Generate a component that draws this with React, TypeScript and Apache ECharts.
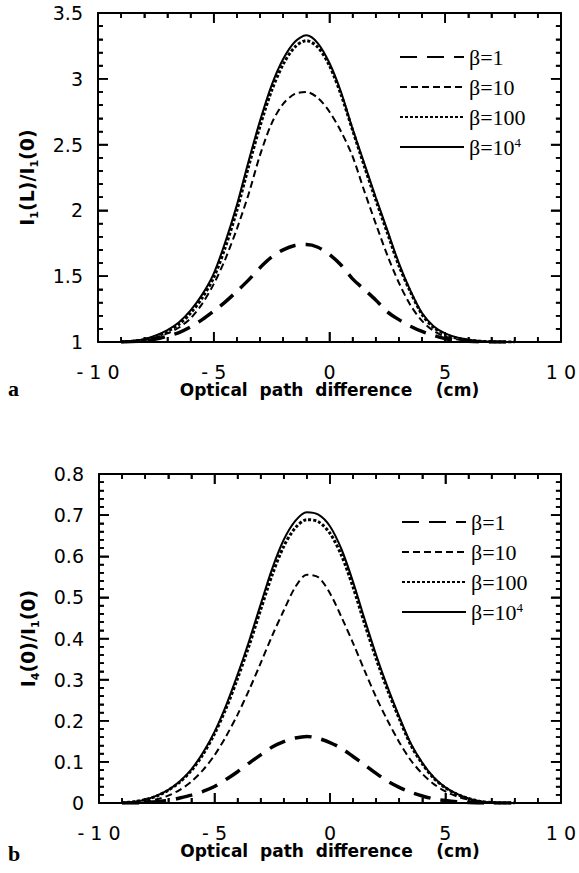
import React, { useEffect, useRef } from 'react';
import * as echarts from 'echarts';

// Optical path difference (cm)
const xs = [-9, -8.5, -8, -7.5, -7, -6.5, -6, -5.5, -5, -4.5, -4, -3.5, -3, -2.5, -2, -1.5, -1, -0.5, 0, 0.5, 1, 1.5, 2, 2.5, 3, 3.5, 4, 4.5, 5, 5.5, 6, 6.5, 7, 7.5, 8];

// Panel a: I1(L)/I1(0)
const topBeta1 = [1.0, 1.004, 1.01, 1.022, 1.045, 1.072, 1.115, 1.17, 1.235, 1.305, 1.385, 1.47, 1.565, 1.645, 1.70, 1.733, 1.74, 1.72, 1.665, 1.585, 1.48, 1.40, 1.32, 1.23, 1.17, 1.12, 1.08, 1.05, 1.025, 1.012, 1.005, 1.002, 1.0, 1.0, 1.0];
const topBeta10 = [1.0, 1.005, 1.015, 1.035, 1.065, 1.11, 1.18, 1.29, 1.44, 1.63, 1.86, 2.12, 2.42, 2.66, 2.81, 2.885, 2.90, 2.855, 2.75, 2.60, 2.41, 2.15, 1.90, 1.66, 1.45, 1.28, 1.16, 1.085, 1.04, 1.02, 1.008, 1.003, 1.0, 1.0, 1.0];
const topBeta100 = [1.0, 1.006, 1.018, 1.042, 1.08, 1.135, 1.22, 1.335, 1.49, 1.72, 2.0, 2.33, 2.64, 2.91, 3.11, 3.24, 3.29, 3.24, 3.10, 2.88, 2.61, 2.34, 2.08, 1.83, 1.58, 1.38, 1.21, 1.11, 1.06, 1.03, 1.015, 1.006, 1.002, 1.0, 1.0];
const topBeta1e4 = [1.0, 1.008, 1.022, 1.05, 1.09, 1.15, 1.24, 1.36, 1.52, 1.76, 2.04, 2.37, 2.68, 2.95, 3.15, 3.28, 3.33, 3.27, 3.12, 2.90, 2.62, 2.36, 2.10, 1.85, 1.60, 1.39, 1.22, 1.12, 1.065, 1.035, 1.018, 1.008, 1.003, 1.0, 1.0];

// Panel b: I4(0)/I1(0)
const botBeta1 = [0, 0, 0.001, 0.003, 0.006, 0.012, 0.019, 0.028, 0.04, 0.057, 0.076, 0.097, 0.117, 0.136, 0.149, 0.158, 0.162, 0.157, 0.147, 0.133, 0.113, 0.093, 0.072, 0.053, 0.038, 0.026, 0.017, 0.01, 0.006, 0.003, 0.001, 0, 0, 0, 0];
const botBeta10 = [0, 0.001, 0.004, 0.009, 0.018, 0.032, 0.052, 0.08, 0.116, 0.162, 0.215, 0.275, 0.34, 0.407, 0.468, 0.525, 0.555, 0.549, 0.51, 0.452, 0.389, 0.322, 0.257, 0.20, 0.148, 0.104, 0.071, 0.046, 0.028, 0.016, 0.008, 0.003, 0.001, 0, 0];
const botBeta100 = [0, 0.003, 0.008, 0.017, 0.031, 0.051, 0.079, 0.118, 0.168, 0.23, 0.303, 0.383, 0.47, 0.555, 0.624, 0.669, 0.689, 0.684, 0.656, 0.602, 0.525, 0.436, 0.351, 0.274, 0.205, 0.141, 0.095, 0.06, 0.037, 0.021, 0.011, 0.004, 0.001, 0, 0];
const botBeta1e4 = [0, 0.003, 0.008, 0.018, 0.032, 0.053, 0.082, 0.122, 0.173, 0.237, 0.312, 0.394, 0.483, 0.57, 0.64, 0.686, 0.707, 0.701, 0.673, 0.617, 0.538, 0.447, 0.36, 0.281, 0.21, 0.145, 0.098, 0.062, 0.038, 0.022, 0.011, 0.004, 0.001, 0, 0];

const seriesNames = ['β=1', 'β=10', 'β=100', 'β=10⁴'];
const topSeries = [topBeta1, topBeta10, topBeta100, topBeta1e4];
const botSeries = [botBeta1, botBeta10, botBeta100, botBeta1e4];

// Axis ticks
const xMajorTicks = [-10, -5, 0, 5, 10];
const topYMajorTicks = [1, 1.5, 2, 2.5, 3, 3.5];
const botYMajorTicks = [0, 0.1, 0.2, 0.3, 0.4, 0.5, 0.6, 0.7, 0.8];
const MINOR_SPLIT = 5;

const lineStyles = [
  { width: 3.5, type: [17, 10] as any },
  { width: 2, type: [7, 4] as any },
  { width: 3, type: [3, 2] as any },
  { width: 2, type: 'solid' as any },
];

const SANS = 'DejaVu Sans';
const SERIF = 'Liberation Serif';
const MAJOR_LEN = 10; // px
const MINOR_LEN = 5; // px
const TICK_W = 1.6;

const GRIDS = [
  { left: 98, top: 13, width: 466, height: 329 },
  { left: 99, top: 474, width: 465, height: 329 },
];

function spaced(v: number) {
  return String(v).split('').join(' ');
}

function minorsOf(majors: number[]) {
  const out: number[] = [];
  for (let i = 0; i < majors.length - 1; i++) {
    const step = (majors[i + 1] - majors[i]) / MINOR_SPLIT;
    for (let k = 1; k < MINOR_SPLIT; k++) out.push(+(majors[i] + step * k).toFixed(6));
  }
  return out;
}

// Inward tick segments on all four sides, expressed in data units so the
// library's own scales place them; '-' entries break the polyline.
function tickSegments(yMajors: number[], grid: { width: number; height: number }) {
  const xMin = xMajorTicks[0];
  const xMax = xMajorTicks[xMajorTicks.length - 1];
  const yMin = yMajors[0];
  const yMax = yMajors[yMajors.length - 1];
  const xPerPx = (xMax - xMin) / grid.width;
  const yPerPx = (yMax - yMin) / grid.height;
  const d: any[] = [];
  const gap = () => d.push(['-', '-']);
  const addX = (v: number, len: number) => {
    d.push([v, yMin], [v, yMin + len * yPerPx]);
    gap();
    d.push([v, yMax], [v, yMax - len * yPerPx]);
    gap();
  };
  const addY = (v: number, len: number) => {
    d.push([xMin, v], [xMin + len * xPerPx, v]);
    gap();
    d.push([xMax, v], [xMax - len * xPerPx, v]);
    gap();
  };
  xMajorTicks.forEach((v) => addX(v, MAJOR_LEN));
  minorsOf(xMajorTicks).forEach((v) => addX(v, MINOR_LEN));
  yMajors.forEach((v) => addY(v, MAJOR_LEN));
  minorsOf(yMajors).forEach((v) => addY(v, MINOR_LEN));
  return d;
}

function tickSeries(gi: number, yMajors: number[]) {
  return {
    type: 'line',
    name: 'axis-ticks-' + gi,
    xAxisIndex: gi * 2,
    yAxisIndex: gi * 2,
    data: tickSegments(yMajors, GRIDS[gi]),
    symbol: 'none',
    smooth: false,
    connectNulls: false,
    silent: true,
    clip: false,
    lineStyle: { color: '#000', width: TICK_W, type: 'solid', cap: 'butt' },
    z: 20,
  };
}

const AXIS_TICK = { show: true, inside: true, length: MAJOR_LEN, lineStyle: { color: '#000', width: TICK_W } };
const MINOR_TICK = { show: true, splitNumber: MINOR_SPLIT, length: MINOR_LEN, lineStyle: { color: '#000', width: TICK_W } };

function makeX(gridIndex: number, position: 'top' | 'bottom') {
  const isBottom = position === 'bottom';
  return {
    type: 'value',
    gridIndex,
    position,
    min: -10,
    max: 10,
    interval: 5,
    axisLine: { show: true, onZero: false, lineStyle: { color: '#000', width: 2 } },
    axisTick: AXIS_TICK,
    minorTick: MINOR_TICK,
    splitLine: { show: false },
    axisLabel: {
      show: isBottom,
      margin: 20,
      formatter: (v: number) => spaced(v),
      color: '#000',
      fontFamily: SANS,
      fontSize: 19,
    },
    name: isBottom ? 'Optical  path  difference    (cm)' : '',
    nameLocation: 'middle',
    nameGap: 38,
    nameTextStyle: { color: '#000', fontFamily: SANS, fontWeight: 'bold', fontSize: 17 },
  };
}

function makeY(gridIndex: number, position: 'left' | 'right', min: number, max: number, interval: number, name: string) {
  const isLeft = position === 'left';
  return {
    type: 'value',
    gridIndex,
    position,
    min,
    max,
    interval,
    axisLine: { show: true, onZero: false, lineStyle: { color: '#000', width: 2 } },
    axisTick: AXIS_TICK,
    minorTick: MINOR_TICK,
    splitLine: { show: false },
    axisLabel: {
      show: isLeft,
      margin: 15,
      color: '#000',
      fontFamily: SANS,
      fontSize: 19,
    },
    name: isLeft ? name : '',
    nameLocation: 'middle',
    nameGap: 58,
    nameTextStyle: {
      color: '#000',
      rich: {
        b: { fontFamily: SANS, fontWeight: 'bold', fontSize: 19, lineHeight: 26, color: '#000' },
        s: { fontFamily: SANS, fontWeight: 'bold', fontSize: 11, lineHeight: 11, verticalAlign: 'bottom', color: '#000' },
      },
    },
  };
}

function makeLegend(left: number, top: number) {
  return {
    data: seriesNames,
    orient: 'vertical',
    left,
    top,
    padding: 0,
    itemWidth: 64,
    itemHeight: 14,
    itemGap: 8,
    selectedMode: false,
    itemStyle: { opacity: 0, color: 'transparent', borderColor: 'transparent', borderWidth: 0 },
    formatter: (name: string) => (name === 'β=10⁴' ? '{p|β=10}{q|4}' : '{t|' + name + '}'),
    textStyle: {
      color: '#000',
      rich: {
        t: { fontFamily: SERIF, fontSize: 22, lineHeight: 22, color: '#000' },
        p: { fontFamily: SERIF, fontSize: 22, lineHeight: 22, color: '#000' },
        q: { fontFamily: SERIF, fontSize: 13, lineHeight: 13, verticalAlign: 'top', color: '#000' },
      },
    },
  };
}

export default function App() {
  const ref = useRef<HTMLDivElement>(null);

  useEffect(() => {
    if (!ref.current) return;
    const chart = echarts.init(ref.current, undefined, { renderer: 'svg' });

    const series: any[] = [];
    [topSeries, botSeries].forEach((group, gi) => {
      group.forEach((vals, si) => {
        series.push({
          type: 'line',
          name: seriesNames[si],
          xAxisIndex: gi * 2,
          yAxisIndex: gi * 2,
          data: xs.map((x, i) => [x, vals[i]]),
          symbol: 'none',
          smooth: 0.3,
          lineStyle: { color: '#000', width: lineStyles[si].width, type: lineStyles[si].type, cap: 'butt' },
          itemStyle: { color: '#000' },
          z: 2 + si,
        });
      });
    });
    series.push(tickSeries(0, topYMajorTicks));
    series.push(tickSeries(1, botYMajorTicks));

    chart.setOption({
      animation: false,
      backgroundColor: '#fff',
      textStyle: { fontFamily: SANS },
      grid: GRIDS,
      xAxis: [makeX(0, 'bottom'), makeX(0, 'top'), makeX(1, 'bottom'), makeX(1, 'top')],
      yAxis: [
        makeY(0, 'left', 1, 3.5, 0.5, '{b|I}{s|1}{b|(L)/I}{s|1}{b|(0)}'),
        makeY(0, 'right', 1, 3.5, 0.5, ''),
        makeY(1, 'left', 0, 0.8, 0.1, '{b|I}{s|4}{b|(0)/I}{s|1}{b|(0)}'),
        makeY(1, 'right', 0, 0.8, 0.1, ''),
      ],
      legend: [makeLegend(399, 46), makeLegend(401, 511)],
      graphic: [
        { type: 'text', left: 8, top: 377, style: { text: 'a', fontFamily: SERIF, fontWeight: 'bold', fontSize: 22, fill: '#000' } },
        { type: 'text', left: 8, top: 842, style: { text: 'b', fontFamily: SERIF, fontWeight: 'bold', fontSize: 22, fill: '#000' } },
      ],
      series,
    });

    return () => chart.dispose();
  }, []);

  return <div ref={ref} style={{ position: 'absolute', left: 0, top: 0, width: 579, height: 873 }} />;
}
